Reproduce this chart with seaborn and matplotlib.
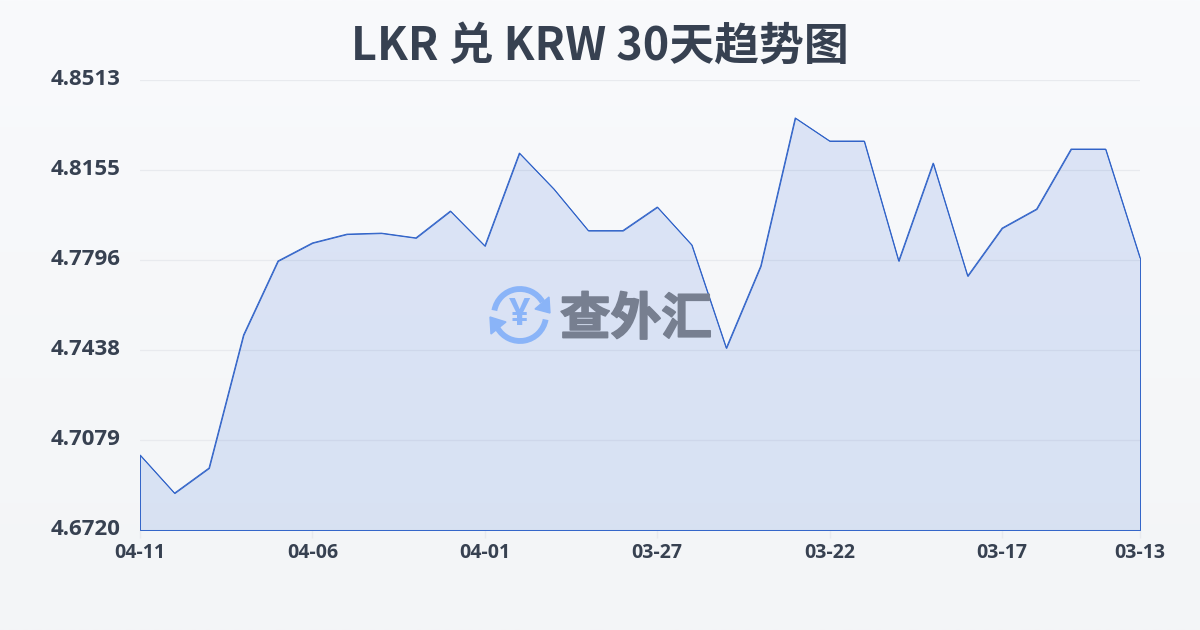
import numpy as np
import pandas as pd
import seaborn as sns
import matplotlib.pyplot as plt
import matplotlib.patheffects as pe
from matplotlib.colors import LinearSegmentedColormap
from matplotlib.patches import Arc, Polygon
from matplotlib.transforms import ScaledTranslation

# data
dates = ["04-11", "04-10", "04-09", "04-08", "04-07", "04-06", "04-05", "04-04", "04-03", "04-02",
         "04-01", "03-31", "03-30", "03-29", "03-28", "03-27", "03-26", "03-25", "03-24", "03-23",
         "03-22", "03-21", "03-20", "03-19", "03-18", "03-17", "03-16", "03-15", "03-14", "03-13"]
rates = [4.7019, 4.6867, 4.6967, 4.7497, 4.7792, 4.7864, 4.7899, 4.7903, 4.7884, 4.7991,
         4.7852, 4.8222, 4.8079, 4.7913, 4.7913, 4.8007, 4.7856, 4.7445, 4.7772, 4.8362,
         4.8270, 4.8270, 4.7792, 4.8182, 4.7732, 4.7923, 4.7999, 4.8238, 4.8238, 4.7804]
y_ticks = [4.6720, 4.7079, 4.7438, 4.7796, 4.8155, 4.8513]
x_tick_labels = ["04-11", "04-06", "04-01", "03-27", "03-22", "03-17", "03-13"]
title = "LKR 兑 KRW 30天趋势图"

INK = "#374151"
LINE = "#2f62c8"

sns.set_theme(style="white")
plt.rcParams['font.family'] = ['Noto Sans CJK SC', 'DejaVu Sans']

df = pd.DataFrame({"date": dates, "rate": rates})
df["pos"] = df.index

W, H = 1200, 630
fig = plt.figure(figsize=(W / 100, H / 100), dpi=100)

# background gradient, first colour is the top of the picture
bg = fig.add_axes([0, 0, 1, 1], zorder=0)
bg.imshow(np.linspace(0, 1, 256).reshape(-1, 1), aspect="auto", extent=(0, 1, 0, 1),
          cmap=LinearSegmentedColormap.from_list("bg", ["#f9fafc", "#f3f5f7"]))
bg.axis("off")

ax = fig.add_axes([140 / W, 1 - 530 / H, 1000 / W, 450 / H], zorder=1)
ax.patch.set_alpha(0)

sns.lineplot(data=df, x="pos", y="rate", ax=ax, color=LINE, linewidth=0.7, zorder=3)
ax.fill_between(df["pos"], df["rate"], y_ticks[0], facecolor=(0.23, 0.44, 0.85, 0.15),
                edgecolor=LINE, linewidth=0.7, zorder=2)

ax.set_xlim(0, len(dates) - 1)
ax.set_ylim(y_ticks[0], y_ticks[-1])
ax.set_xlabel("")
ax.set_ylabel("")

ax.set_yticks(y_ticks)
ax.set_yticklabels([f"{v:.4f}" for v in y_ticks], family=['Open Sans', 'DejaVu Sans'],
                   fontsize=16, fontweight="bold", color=INK)
ax.set_xticks([dates.index(d) for d in x_tick_labels])
ax.set_xticklabels(x_tick_labels, family=['Open Sans', 'DejaVu Sans'],
                   fontsize=14, fontweight="bold", color=INK)
ax.tick_params(axis="y", length=0, pad=14)
ax.tick_params(axis="x", length=6, width=1, color="#e8eaee", pad=3, bottom=True)
ax.grid(axis="y", color="#e8eaee", linewidth=0.9)
ax.set_axisbelow(True)
sns.despine(ax=ax, left=True, bottom=True, top=True, right=True)

# y labels sit slightly above their gridlines
for lab in ax.get_yticklabels():
    lab.set_transform(lab.get_transform() + ScaledTranslation(0, 2 / 72, fig.dpi_scale_trans))

fig.text(0.5, 1 - 47 / H, title, ha="center", va="center", fontsize=32.3,
         fontweight="bold", color=INK)

# watermark, drawn in pixel coordinates
wm = fig.add_axes([0, 0, 1, 1], zorder=2)
wm.set_xlim(0, W)
wm.set_ylim(H, 0)
wm.axis("off")
wm.patch.set_alpha(0)
LOGO = "#8ab4f8"
wm.add_patch(Arc((520, 315), 52, 52, theta1=10, theta2=150, color=LOGO, linewidth=4.2))
wm.add_patch(Arc((520, 315), 52, 52, theta1=190, theta2=330, color=LOGO, linewidth=4.2))
wm.add_patch(Polygon([(549, 297), (550, 313), (535, 309)], closed=True, color=LOGO))
wm.add_patch(Polygon([(490, 317), (491, 334), (506, 322)], closed=True, color=LOGO))
wm.text(520, 315, "¥", ha="center", va="center", fontsize=27, fontweight="bold", color=LOGO,
        family=['Open Sans', 'DejaVu Sans'])
wm.text(636, 320, "查外汇", ha="center", va="center", fontsize=36.5, fontweight="bold",
        color="#777f90", path_effects=[pe.withStroke(linewidth=1.2, foreground="#777f90")])

fig.savefig("out.png", dpi=100)
